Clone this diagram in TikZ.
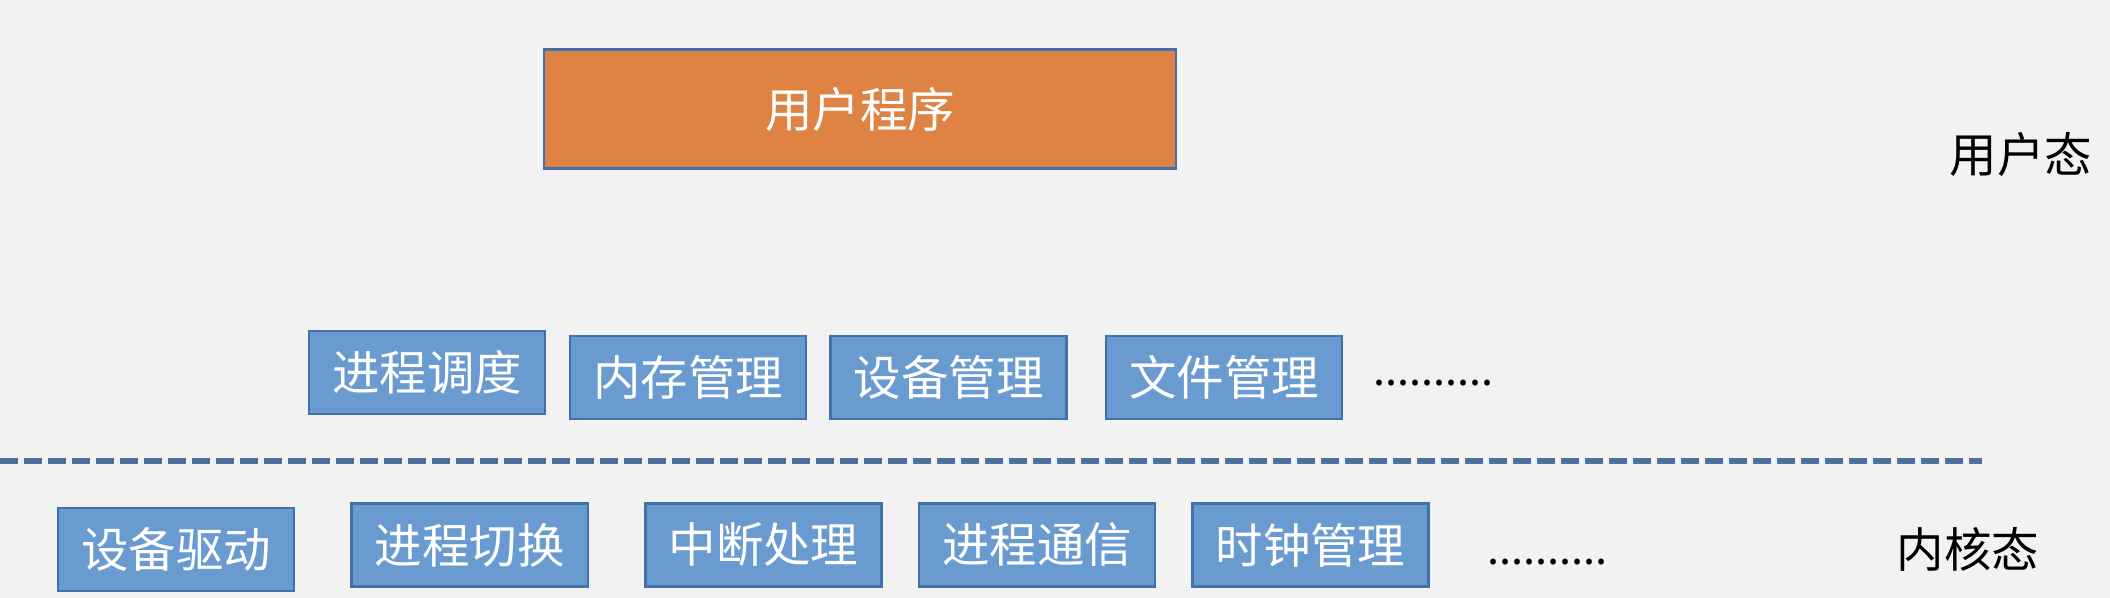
\documentclass[tikz,border=0pt]{standalone}
\usepackage{fontspec}
\usepackage{xcolor}
\usepackage{tikz}
\newfontfamily\cjk{Noto Sans CJK SC}
\definecolor{figbg}{RGB}{242,242,242}
\definecolor{boxfill}{RGB}{106,155,208}
\definecolor{boxline}{RGB}{65,113,170}
\definecolor{userfill}{RGB}{223,131,68}
\definecolor{sepline}{RGB}{78,112,154}
\tikzset{
  mod/.style  ={draw=boxline, fill=boxfill, line width=0.7pt, inner sep=0pt,
                minimum width=2.36cm, minimum height=0.83cm,
                font=\cjk\fontsize{13.5}{16}\selectfont, text=white},
  usr/.style  ={mod, fill=userfill, minimum width=6.32cm, minimum height=1.19cm},
  lvl/.style  ={font=\cjk\fontsize{13.5}{16}\selectfont, inner sep=0pt},
  more/.style ={font=\cjk\fontsize{12.3}{15}\selectfont, inner sep=0pt, anchor=base west},
  sep/.style  ={draw=sepline, line width=1.6pt, dash pattern=on 0.18cm off 0.06cm},
}

\begin{document}
\begin{tikzpicture}[x=0.01cm,y=-0.01cm]
  \fill[figbg] (0,0) rectangle (2110,598);
  \useasboundingbox (0,0) rectangle (2110,598);
  \node[usr] (user) at (860,109) {用户程序};
  \node[mod] (sched) at (427,372.5) {进程调度};
  \node[mod] (mem) at (688,377.5) {内存管理};
  \node[mod] (dev) at (948.6,377.5) {设备管理};
  \node[mod] (file) at (1224,377.5) {文件管理};
  \node[more] (moreup) at (1373,386) {..........};
  \coordinate (sepL) at (0,461);
  \coordinate (sepR) at (1982,461);
  \draw[sep] (sepL) -- (sepR);
  \node[mod] (drv) at (176,549.5) {设备驱动};
  \node[mod] (swt) at (469.7,545) {进程切换};
  \node[mod] (intr) at (763.5,545) {中断处理};
  \node[mod] (ipc) at (1037,545) {进程通信};
  \node[mod] (clk) at (1310.5,545) {时钟管理};
  \node[more] (morelow) at (1487,565) {..........};
  \node[lvl] (ustate) at (2021,154) {用户态};
  \node[lvl] (kstate) at (1968,549) {内核态};
\end{tikzpicture}
\end{document}
